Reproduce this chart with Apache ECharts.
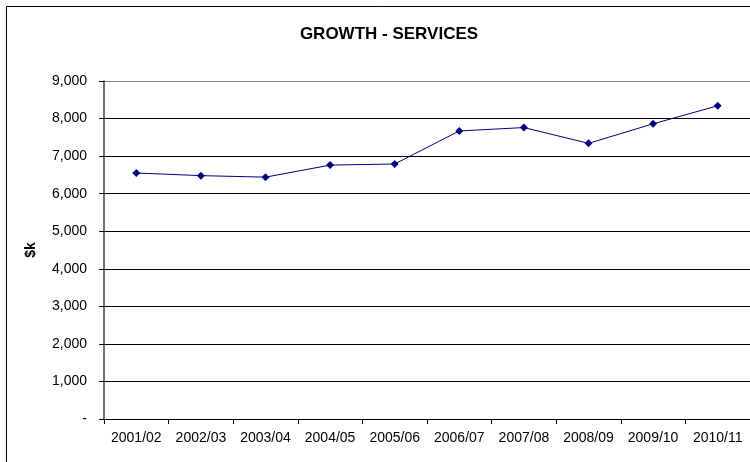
<!DOCTYPE html>
<html>
<head>
<meta charset="utf-8">
<script src="https://cdn.jsdelivr.net/npm/echarts@6/dist/echarts.min.js"></script>
<style>
  html, body { margin: 0; padding: 0; background: #fff; }
  #chart { width: 750px; height: 462px; }
</style>
</head>
<body>
<div id="chart"></div>
<script>
// Services revenue by financial year, in $k
const years = ['2001/02', '2002/03', '2003/04', '2004/05', '2005/06',
               '2006/07', '2007/08', '2008/09', '2009/10', '2010/11'];
const services = [6550, 6480, 6440, 6760, 6790, 7670, 7760, 7340, 7860, 8340];

const yMin = 0, yMax = 9000, yStep = 1000;
const FONT = 'Liberation Sans, Arial, sans-serif';

// Every grid line black except the top border of the plot area
const gridColors = [];
for (let v = yMin; v <= yMax; v += yStep) gridColors.push(v === yMax ? '#808080' : '#000000');

const chart = echarts.init(document.getElementById('chart'), null, { renderer: 'canvas' });
chart.setOption({
  animation: false,
  backgroundColor: '#ffffff',
  title: {
    text: 'GROWTH - SERVICES',
    left: 384, top: 21, textAlign: 'center',
    textStyle: { fontFamily: FONT, fontSize: 17, fontWeight: 'bold', color: '#000' }
  },
  graphic: [{
    type: 'rect', silent: true, z: -1,
    shape: { x: 6.5, y: 6.5, width: 800, height: 500 },
    style: { fill: 'none', stroke: '#000', lineWidth: 1 }
  }],
  grid: { left: 104, right: 0, top: 81, bottom: 43, containLabel: false },
  xAxis: {
    type: 'category',
    data: years,
    boundaryGap: true,
    axisLine: { lineStyle: { color: '#000', width: 1 } },
    axisTick: { show: true, length: 5, lineStyle: { color: '#000' } },
    axisLabel: { fontFamily: FONT, fontSize: 14, color: '#000', margin: 12, interval: 0 }
  },
  yAxis: {
    type: 'value',
    min: yMin, max: yMax, interval: yStep,
    name: '$k',
    nameLocation: 'middle',
    nameGap: 66,
    nameRotate: 90,
    nameTextStyle: { fontFamily: FONT, fontSize: 14, fontWeight: 'bold', color: '#000' },
    axisLine: { show: true, lineStyle: { color: '#404040', width: 1.5 } },
    axisTick: { show: true, length: 5, lineStyle: { color: '#000' } },
    axisLabel: {
      fontFamily: FONT, fontSize: 14, color: '#000', margin: 17,
      formatter: v => v === 0 ? '-' : v.toLocaleString('en-US')
    },
    splitLine: { show: true, lineStyle: { color: gridColors, width: 1 } }
  },
  series: [{
    type: 'line',
    data: services,
    symbol: 'diamond',
    symbolSize: 8,
    itemStyle: { color: '#000080' },
    lineStyle: { color: '#000080', width: 1 }
  }]
});
</script>
</body>
</html>
